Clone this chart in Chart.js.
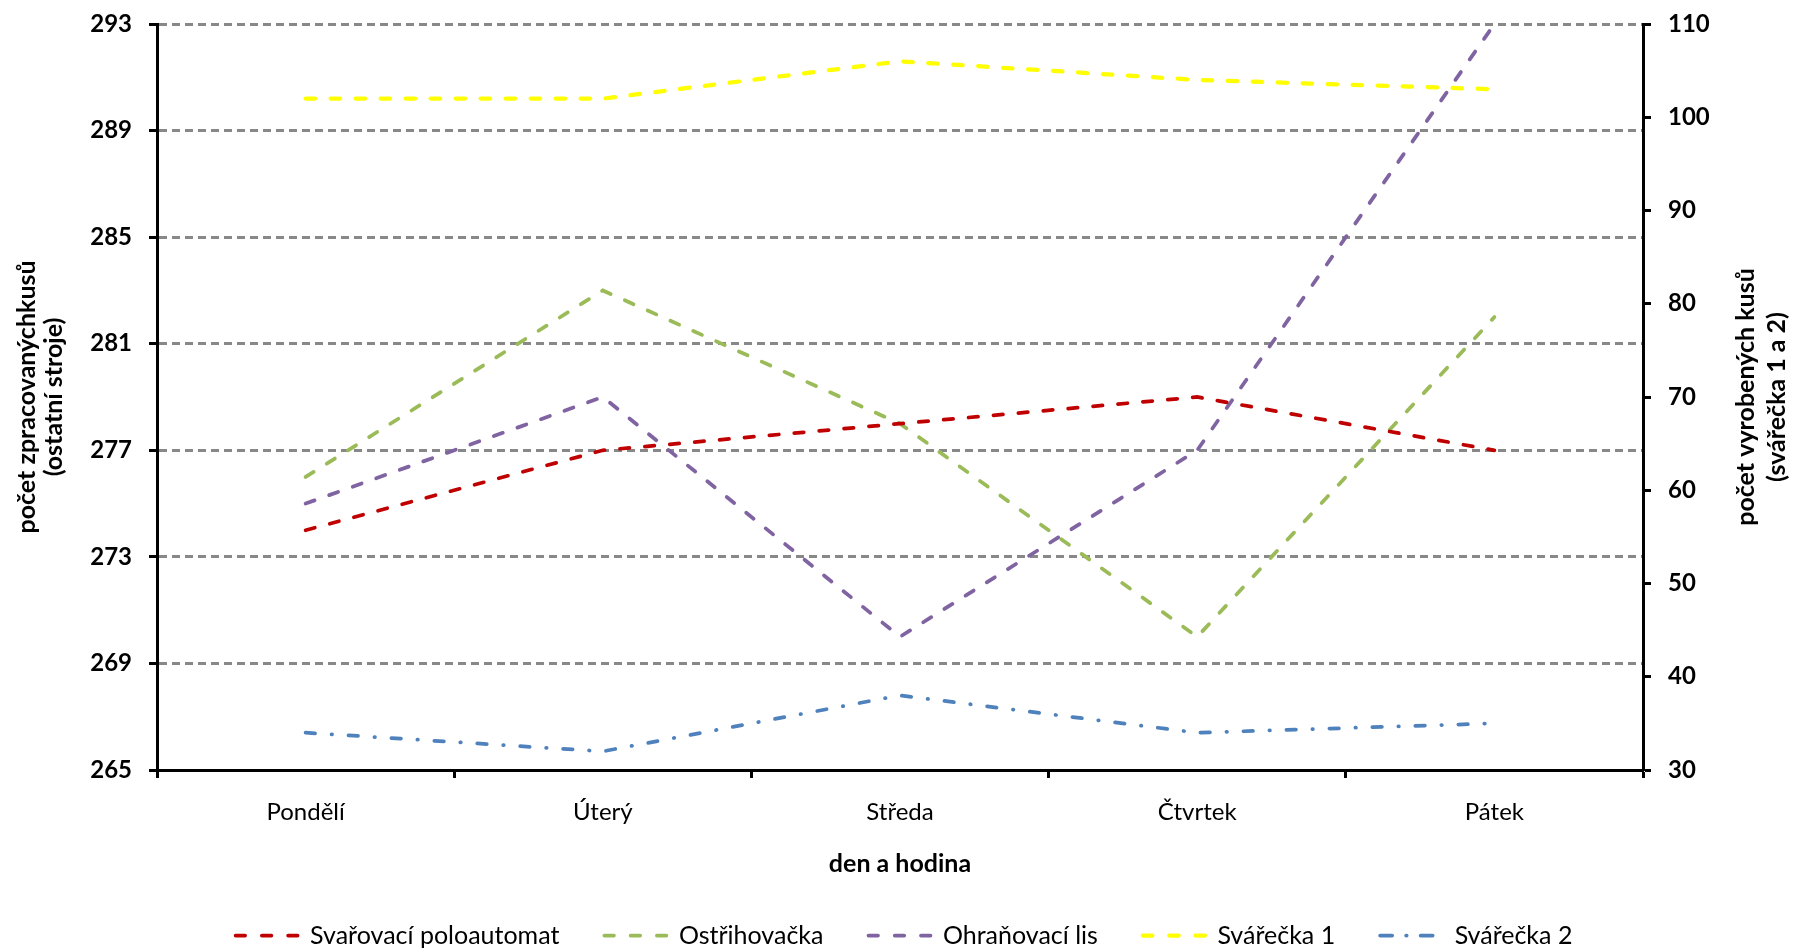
<!DOCTYPE html>
<html>
<head>
<meta charset="utf-8">
<script src="https://cdn.jsdelivr.net/npm/chart.js@4.4.1/dist/chart.umd.min.js"></script>
<style>
  html, body { margin: 0; padding: 0; background: #fff; overflow: hidden; }
  #wrap { width: 1793px; height: 951px; }
</style>
</head>
<body>
<div id="wrap"><canvas id="c" width="1793" height="951"></canvas></div>
<script>
// Days of the week (categories)
const days = ['Pondělí', 'Úterý', 'Středa', 'Čtvrtek', 'Pátek'];

// Left axis series: processed pieces (other machines)
const svarovaciPoloautomat = [274, 277, 278, 279, 277];
const ostrihovacka = [276, 283, 278, 270, 282];
const ohranovaciLis = [275, 279, 270, 277, 293];

// Right axis series: produced pieces (welders 1 and 2)
const svarecka1 = [102, 102, 106, 104, 103];
const svarecka2 = [34, 32, 38, 34, 35];

// Axis ranges
const leftRange = { min: 265, max: 293, step: 4 };
const rightRange = { min: 30, max: 110, step: 10 };

// Axis titles
const leftTitle = ['počet zpracovanýchkusů', '(ostatní stroje)'];
const rightTitle = ['počet vyrobených kusů', '(svářečka 1 a 2)'];
const bottomTitle = 'den a hodina';

const FONT = 'Lato, "Open Sans", "DejaVu Sans", sans-serif';
Chart.defaults.font.family = FONT;
Chart.defaults.color = '#000';

// Line dash patterns (plot lines and legend samples)
const DASH = [9.5, 15.5];
const DASH_DOT = [9.5, 16.5, 0.5, 16.5];
const LEGEND_DASH = [9.5, 16.75];
const LEGEND_DASH_DOT = [12, 14, 0.5, 14];

// Rotated two-line titles for both value axes (both read bottom-to-top)
const sideTitles = {
  id: 'sideTitles',
  afterDraw(chart) {
    const ctx = chart.ctx;
    const a = chart.chartArea;
    const cy = (a.top + a.bottom) / 2;
    ctx.save();
    ctx.font = 'bold 25px ' + FONT;
    ctx.fillStyle = '#000';
    ctx.textAlign = 'center';
    ctx.textBaseline = 'middle';
    const draw = (lines, x0, gap) => {
      lines.forEach((t, i) => {
        ctx.save();
        ctx.translate(x0 + i * gap, cy);
        ctx.rotate(-Math.PI / 2);
        ctx.fillText(t, 0, 0);
        ctx.restore();
      });
    };
    draw(leftTitle, a.left - 130, 27);
    draw(rightTitle, chart.scales.y1.right - 47, 31);
    ctx.restore();
  }
};

function lineSet(label, data, color, axis, dash, legendDash, width) {
  return {
    label, data, yAxisID: axis,
    borderColor: color, backgroundColor: color,
    borderWidth: width, borderDash: dash, borderCapStyle: 'round',
    legendDash,
    pointRadius: 0, pointHoverRadius: 0, tension: 0, fill: false
  };
}

new Chart(document.getElementById('c'), {
  type: 'line',
  data: {
    labels: days,
    datasets: [
      lineSet('Svařovací poloautomat', svarovaciPoloautomat, '#C00000', 'y', DASH, LEGEND_DASH, 3.75),
      lineSet('Ostřihovačka', ostrihovacka, '#9BBB59', 'y', DASH, LEGEND_DASH, 3.75),
      lineSet('Ohraňovací lis', ohranovaciLis, '#8064A2', 'y', DASH, LEGEND_DASH, 3.75),
      lineSet('Svářečka 1', svarecka1, '#FFFF00', 'y1', DASH, LEGEND_DASH, 4.25),
      lineSet('Svářečka 2', svarecka2, '#4F81BD', 'y1', DASH_DOT, LEGEND_DASH_DOT, 3.75)
    ]
  },
  options: {
    responsive: false,
    animation: false,
    devicePixelRatio: 1,
    layout: { padding: { top: 24, left: 15, right: 0, bottom: -7 } },
    plugins: {
      tooltip: { enabled: false },
      legend: {
        position: 'bottom',
        labels: {
          usePointStyle: true,
          pointStyle: 'line',
          pointStyleWidth: 62,
          padding: 45,
          font: { size: 25 },
          color: '#000',
          generateLabels(chart) {
            const items = Chart.defaults.plugins.legend.labels.generateLabels(chart);
            items.forEach(it => {
              const ds = chart.data.datasets[it.datasetIndex];
              it.pointStyle = 'line';
              it.lineDash = ds.legendDash;
              it.lineCap = 'round';
              it.lineWidth = ds.borderWidth;
              it.strokeStyle = ds.borderColor;
              it.fontColor = '#000';
            });
            return items;
          }
        }
      }
    },
    scales: {
      x: {
        type: 'category',
        offset: true,
        grid: {
          offset: true, drawOnChartArea: false,
          tickLength: 8, tickColor: '#000', tickWidth: 3
        },
        border: { display: true, color: '#000', width: 3 },
        ticks: { font: { size: 24 }, padding: 20, color: '#000', maxRotation: 0 },
        title: { display: true, text: bottomTitle, font: { size: 25, weight: 'bold' }, color: '#000', padding: { top: 34, bottom: -1 } },
        afterFit(s) { s.height = 951 + 7 - 770 - s.chart.legend.height; }
      },
      y: {
        position: 'left',
        min: leftRange.min, max: leftRange.max,
        ticks: { stepSize: leftRange.step, font: { size: 24, weight: 'bold' }, padding: 17, color: '#000' },
        grid: {
          color: '#888888', lineWidth: 3,
          tickLength: 8, tickColor: '#000', tickWidth: 3, tickBorderDash: []
        },
        border: { display: true, color: '#000', width: 3, dash: [8, 5] },
        afterFit(s) { s.width = 142; s.paddingTop = 0; s.paddingBottom = 0; }
      },
      y1: {
        position: 'right',
        min: rightRange.min, max: rightRange.max,
        ticks: { stepSize: rightRange.step, font: { size: 24, weight: 'bold' }, padding: 17, color: '#000' },
        grid: {
          drawOnChartArea: false,
          tickLength: 8, tickColor: '#000', tickWidth: 3
        },
        border: { display: true, color: '#000', width: 3 },
        afterFit(s) { s.width = 150; s.paddingTop = 0; s.paddingBottom = 0; }
      }
    }
  },
  plugins: [sideTitles]
});
</script>
</body>
</html>
